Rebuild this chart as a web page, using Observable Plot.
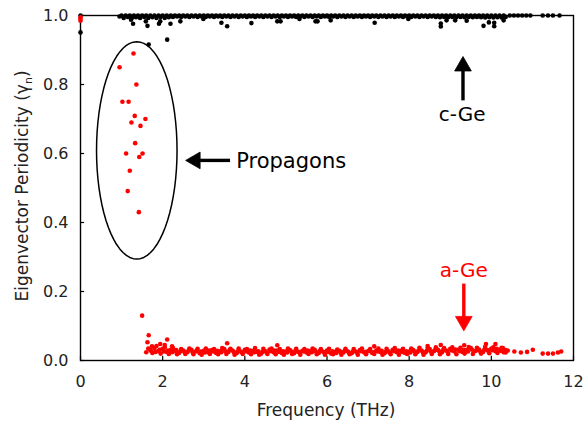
<!DOCTYPE html>
<html>
<head>
<meta charset="utf-8">
<script src="https://cdn.jsdelivr.net/npm/d3@7"></script>
<script src="https://cdn.jsdelivr.net/npm/@observablehq/plot@0.6"></script>
<style>
  html, body { margin: 0; padding: 0; background: #fff; }
  #chart { width: 584px; height: 425px; }
</style>
</head>
<body>
<div id="chart"></div>
<script>
// ---------- tick values ----------
const xTicks = [0, 2, 4, 6, 8, 10, 12];
const yTicks = [0, 0.2, 0.4, 0.6, 0.8, 1.0];

// ---------- c-Ge (black) points: [frequency THz, periodicity] ----------
const cGe = [
  [0, 1.000], [0, 0.951], [1.66, 0.916], [2.11, 0.930],
  [0.95, 0.997], [1.00, 1.000], [1.05, 0.993], [1.10, 1.000], [1.15, 0.996], [1.20, 1.000], [1.25, 0.993], [1.30, 1.000], [1.35, 0.995], [1.40, 1.000],
  [1.45, 0.993], [1.50, 1.000], [1.55, 0.996], [1.60, 1.000], [1.65, 0.993], [1.70, 1.000], [1.75, 0.995], [1.80, 1.000], [1.85, 0.993], [1.90, 1.000],
  [1.95, 0.996], [2.00, 1.000], [2.05, 0.993], [2.10, 1.000], [2.15, 0.995], [2.20, 1.000], [2.25, 0.996], [2.30, 1.000], [2.35, 0.997], [2.40, 1.000],
  [2.45, 0.996], [2.50, 1.000], [2.55, 0.997], [2.60, 1.000], [2.65, 0.996], [2.70, 1.000], [2.75, 0.997], [2.80, 1.000], [2.85, 0.996], [2.90, 1.000],
  [2.95, 0.997], [3.00, 1.000], [3.05, 0.996], [3.10, 1.000], [3.15, 0.997], [3.20, 1.000], [3.25, 0.996], [3.30, 1.000], [3.35, 0.997], [3.40, 1.000],
  [3.45, 0.996], [3.50, 1.000], [3.55, 0.997], [3.60, 1.000], [3.65, 0.996], [3.70, 1.000], [3.75, 0.997], [3.80, 1.000], [3.85, 0.996], [3.90, 1.000],
  [3.95, 0.997], [4.00, 1.000], [4.05, 0.996], [4.10, 1.000], [4.15, 0.997], [4.20, 1.000], [4.25, 0.996], [4.30, 1.000], [4.35, 0.997], [4.40, 1.000],
  [4.45, 0.996], [4.50, 1.000], [4.55, 0.997], [4.60, 1.000], [4.65, 0.996], [4.70, 1.000], [4.75, 0.997], [4.80, 1.000], [4.85, 0.996], [4.90, 1.000],
  [4.95, 0.997], [5.00, 1.000], [5.05, 0.996], [5.10, 1.000], [5.15, 0.997], [5.20, 1.000], [5.25, 0.996], [5.30, 1.000], [5.35, 0.997], [5.40, 1.000],
  [5.45, 0.996], [5.50, 1.000], [5.55, 0.997], [5.60, 1.000], [5.65, 0.996], [5.70, 1.000], [5.75, 0.997], [5.80, 1.000], [5.85, 0.996], [5.90, 1.000],
  [5.95, 0.997], [6.00, 1.000], [6.05, 0.996], [6.10, 1.000], [6.15, 0.997], [6.20, 1.000], [6.25, 0.996], [6.30, 1.000], [6.35, 0.997], [6.40, 1.000],
  [6.45, 0.996], [6.50, 1.000], [6.55, 0.997], [6.60, 1.000], [6.65, 0.996], [6.70, 1.000], [6.75, 0.997], [6.80, 1.000], [6.85, 0.996], [6.90, 1.000],
  [6.95, 0.997], [7.00, 1.000], [7.05, 0.996], [7.10, 1.000], [7.15, 0.997], [7.20, 1.000], [7.25, 0.996], [7.30, 1.000], [7.35, 0.997], [7.40, 1.000],
  [7.45, 0.996], [7.50, 1.000], [7.55, 0.997], [7.60, 1.000], [7.65, 0.996], [7.70, 1.000], [7.75, 0.997], [7.80, 1.000], [7.85, 0.996], [7.90, 1.000],
  [7.95, 0.997], [8.00, 1.000], [8.05, 0.996], [8.10, 1.000], [8.15, 0.997], [8.20, 1.000], [8.25, 0.996], [8.30, 1.000], [8.35, 0.997], [8.40, 1.000],
  [8.45, 0.996], [8.50, 1.000], [8.55, 0.997], [8.60, 1.000], [8.65, 0.996], [8.70, 1.000], [8.75, 0.995], [8.80, 1.000], [8.85, 0.996], [8.90, 1.000],
  [8.95, 0.995], [9.00, 1.000], [9.05, 0.996], [9.10, 1.000], [9.15, 0.995], [9.20, 1.000], [9.25, 0.996], [9.30, 1.000], [9.35, 0.995], [9.40, 1.000],
  [9.45, 0.996], [9.50, 1.000], [9.55, 0.995], [9.60, 1.000], [9.65, 0.996], [9.70, 1.000], [9.75, 0.995], [9.80, 1.000], [9.85, 0.994], [9.90, 1.000],
  [9.95, 0.995], [10.00, 1.000], [10.05, 0.994], [10.10, 1.000], [10.15, 0.995], [10.20, 1.000], [10.25, 0.994], [10.30, 1.000], [10.35, 0.996],
  [1.23, 0.988], [1.28, 0.976], [1.59, 0.983], [1.63, 0.970], [1.91, 0.976], [1.94, 0.983], [2.19, 0.976], [2.43, 0.983],
  [2.99, 0.990], [3.43, 0.979], [3.57, 0.969], [4.16, 0.978], [4.79, 0.983], [4.87, 0.983], [5.33, 0.990], [5.72, 0.983],
  [5.77, 0.983], [6.09, 0.986], [7.16, 0.979], [7.98, 0.990], [8.77, 0.977], [8.77, 0.968], [8.91, 0.986], [9.12, 0.986],
  [9.40, 0.985], [9.81, 0.970], [9.94, 0.980], [10.07, 0.979], [10.07, 0.969], [10.30, 0.986],
  [10.45, 1.000], [10.55, 1.000], [10.65, 1.000], [10.75, 1.000], [10.85, 1.000], [10.95, 1.000],
  [11.25, 1.000], [11.38, 1.000], [11.50, 1.000], [11.66, 1.000]
];

// ---------- a-Ge (red) points: [frequency THz, periodicity] ----------
const aGePropagons = [
  [1.29, 0.890], [0.95, 0.850], [1.36, 0.800], [1.02, 0.750], [1.17, 0.750], [1.32, 0.709],
  [1.24, 0.690], [1.58, 0.700], [1.46, 0.680], [1.33, 0.630], [1.11, 0.600], [1.51, 0.600],
  [1.43, 0.590], [1.20, 0.550], [1.15, 0.491], [1.42, 0.430]
];
const aGeDiffusons = [
  [0, 0.985], [0, 0.995], [0, 0.990],
  [1.50, 0.130], [1.66, 0.073], [1.63, 0.053], [1.60, 0.024], [1.65, 0.035], [2.11, 0.061], [1.94, 0.048],
  [1.74, 0.041], [2.23, 0.041], [2.05, 0.045], [3.57, 0.050], [4.79, 0.044], [7.15, 0.041], [8.45, 0.042],
  [8.77, 0.045], [9.34, 0.044], [9.87, 0.048], [10.10, 0.048], [10.28, 0.036], [10.40, 0.029], [10.56, 0.026],
  [10.72, 0.023], [10.87, 0.025], [11.01, 0.031], [11.25, 0.020], [11.38, 0.020], [11.50, 0.020], [11.62, 0.023], [11.70, 0.026],
  [1.70, .030], [1.80, .036], [1.90, .028], [2.00, .034], [2.10, .025], [2.20, .031], [2.30, .027], [2.40, .022], [2.50, .029], [2.60, .024],
  [2.70, .031], [2.80, .026], [2.90, .021], [3.00, .028], [3.10, .024], [3.20, .030], [3.30, .022], [3.40, .027], [3.50, .033], [3.60, .025],
  [3.70, .029], [3.80, .021], [3.90, .026], [4.00, .031], [4.10, .023], [4.20, .028], [4.30, .025], [4.40, .020], [4.50, .027], [4.60, .032],
  [4.70, .024], [4.80, .029], [4.90, .022], [5.00, .026], [5.10, .030], [5.20, .021], [5.30, .025], [5.40, .028], [5.50, .023], [5.60, .027],
  [5.70, .031], [5.80, .022], [5.90, .026], [6.00, .029], [6.10, .020], [6.20, .025], [6.30, .028], [6.40, .023], [6.50, .027], [6.60, .021],
  [6.70, .026], [6.80, .030], [6.90, .024], [7.00, .027], [7.10, .022], [7.20, .029], [7.30, .025], [7.40, .021], [7.50, .027], [7.60, .031],
  [7.70, .024], [7.80, .028], [7.90, .022], [8.00, .026], [8.10, .030], [8.20, .025], [8.30, .029], [8.40, .023], [8.50, .033], [8.60, .027],
  [8.70, .031], [8.80, .024], [8.90, .029], [9.00, .034], [9.10, .026], [9.20, .031], [9.30, .025], [9.40, .030], [9.50, .036], [9.60, .027],
  [9.70, .032], [9.80, .025], [9.90, .030], [10.00, .035], [10.10, .027], [10.20, .031], [10.30, .024],
  [1.75, .022], [1.85, .042], [1.95, .020], [2.05, .038], [2.15, .019], [2.25, .036], [2.35, .018], [2.45, .033], [2.55, .019], [2.65, .035],
  [2.75, .018], [2.85, .034], [2.95, .017], [3.05, .035], [3.15, .019], [3.25, .033], [3.35, .018], [3.45, .036], [3.55, .019], [3.65, .034],
  [3.75, .017], [3.85, .035], [3.95, .019], [4.05, .033], [4.15, .018], [4.25, .036], [4.35, .017], [4.45, .034], [4.55, .019], [4.65, .035],
  [4.75, .018], [4.85, .033], [4.95, .017], [5.05, .035], [5.15, .019], [5.25, .034], [5.35, .017], [5.45, .033], [5.55, .019], [5.65, .035],
  [5.75, .018], [5.85, .033], [5.95, .017], [6.05, .034], [6.15, .018], [6.25, .032], [6.35, .017], [6.45, .034], [6.55, .018], [6.65, .033],
  [6.75, .017], [6.85, .035], [6.95, .018], [7.05, .033], [7.15, .019], [7.25, .035], [7.35, .017], [7.45, .034], [7.55, .018], [7.65, .036],
  [7.75, .017], [7.85, .034], [7.95, .019], [8.05, .035], [8.15, .018], [8.25, .037], [8.35, .017], [8.45, .036], [8.55, .019], [8.65, .038],
  [8.75, .018], [8.85, .036], [8.95, .019], [9.05, .038], [9.15, .018], [9.25, .037], [9.35, .020], [9.45, .039], [9.55, .019], [9.65, .037],
  [9.75, .020], [9.85, .040], [9.95, .021], [10.05, .038], [10.15, .022], [10.25, .037], [10.35, .023],
  [1.73, .027], [1.83, .025], [1.93, .031], [2.03, .026], [2.13, .029], [2.23, .024], [2.33, .030], [2.43, .027], [2.53, .025], [2.63, .029],
  [2.73, .024], [2.83, .028], [2.93, .026], [3.03, .023], [3.13, .029], [3.23, .026], [3.33, .028], [3.43, .024], [3.53, .027], [3.63, .030],
  [3.73, .025], [3.83, .027], [3.93, .023], [4.03, .026], [4.13, .029], [4.23, .024], [4.33, .027], [4.43, .025], [4.53, .023], [4.63, .027],
  [4.73, .029], [4.83, .025], [4.93, .027], [5.03, .023], [5.13, .026], [5.23, .028], [5.33, .024], [5.43, .026], [5.53, .029], [5.63, .024],
  [5.73, .026], [5.83, .028], [5.93, .023], [6.03, .025], [6.13, .027], [6.23, .022], [6.33, .025], [6.43, .028], [6.53, .024], [6.63, .026],
  [6.73, .023], [6.83, .027], [6.93, .025], [7.03, .029], [7.13, .024], [7.23, .026], [7.33, .028], [7.43, .025], [7.53, .023], [7.63, .027],
  [7.73, .029], [7.83, .025], [7.93, .027], [8.03, .023], [8.13, .026], [8.23, .029], [8.33, .025], [8.43, .028], [8.53, .026], [8.63, .030],
  [8.73, .027], [8.83, .031], [8.93, .026], [9.03, .029], [9.13, .032], [9.23, .027], [9.33, .030], [9.43, .026], [9.53, .031], [9.63, .029],
  [9.73, .026], [9.83, .032], [9.93, .028], [10.03, .030], [10.13, .034], [10.23, .028], [10.33, .031]
];

// ---------- annotations (data coordinates) ----------
const ellipseSpec = {cx: 1.37, cy: 0.609, rx: 0.98, ry: 0.315};
// tail -> neck (head base) -> tip
const arrowPropagons = [{x1: 3.64, y1: 0.580, xn: 2.90, yn: 0.580, xt: 2.56, yt: 0.580}];
const arrowCGe = [{x1: 9.31, y1: 0.754, xn: 9.31, yn: 0.840, xt: 9.31, yt: 0.881}];
const arrowAGe = [{x1: 9.33, y1: 0.223, xn: 9.33, yn: 0.126, xt: 9.33, yt: 0.086}];
const labelPropagons = [{x: 3.79, y: 0.577, text: "Propagons"}];
const labelCGe = [{x: 9.29, y: 0.712, text: "c-Ge"}];
const labelAGe = [{x: 9.33, y: 0.262, text: "a-Ge"}];

const ellipsePts = d3.range(0, 73).map(i => {
  const t = (i / 72) * 2 * Math.PI;
  return {x: ellipseSpec.cx + ellipseSpec.rx * Math.cos(t), y: ellipseSpec.cy + ellipseSpec.ry * Math.sin(t)};
});

const FONT = "DejaVu Sans, sans-serif";
const HEAD_R = 6.2;   // triangle head size
const HEAD_OFF = 9.6; // centroid-to-tip distance in px

function arrowMarks(spec, color, rotate, dx, dy) {
  return [
    Plot.link(spec, {x1: "x1", y1: "y1", x2: "xn", y2: "yn", stroke: color, strokeWidth: 3.4, strokeLinecap: "butt"}),
    Plot.dot(spec, {x: "xt", y: "yt", symbol: "triangle", r: HEAD_R, fill: color, stroke: color, strokeWidth: 0.8, rotate, dx, dy})
  ];
}

const chart = Plot.plot({
  width: 584,
  height: 425,
  marginLeft: 80,
  marginRight: 11,
  marginTop: 15,
  marginBottom: 65,
  style: {fontFamily: FONT, fontSize: "16px", color: "#222", background: "white", overflow: "visible"},
  x: {domain: [0, 12]},
  y: {domain: [0, 1]},
  marks: [
    Plot.axisX(xTicks, {tickSize: 0, tickPadding: 15, label: null, tickFormat: d => String(d), fontSize: 16}),
    Plot.axisY(yTicks, {tickSize: 0, tickPadding: 12, label: null, tickFormat: d3.format(".1f"), fontSize: 16}),
    Plot.ruleX(xTicks, {x: d => d, y1: 0, y2: 0.012, stroke: "black", strokeWidth: 1.2}),
    Plot.ruleY(yTicks, {y: d => d, x1: 0, x2: 0.1, stroke: "black", strokeWidth: 1.2}),
    Plot.frame({stroke: "black", strokeWidth: 1.4}),
    Plot.line(ellipsePts, {x: "x", y: "y", stroke: "black", strokeWidth: 1.5, curve: "linear-closed"}),
    Plot.dot(cGe, {x: d => d[0], y: d => d[1], r: 2.3, fill: "black", stroke: "none"}),
    Plot.dot(aGePropagons, {x: d => d[0], y: d => d[1], r: 2.3, fill: "#ff0000", stroke: "none"}),
    Plot.dot(aGeDiffusons, {x: d => d[0], y: d => d[1], r: 2.3, fill: "#ff0000", stroke: "none"}),
    ...arrowMarks(arrowPropagons, "black", -90, HEAD_OFF, 0),
    ...arrowMarks(arrowCGe, "black", 0, 0, HEAD_OFF),
    ...arrowMarks(arrowAGe, "#ff0000", 180, 0, -HEAD_OFF),
    Plot.text(labelPropagons, {x: "x", y: "y", text: "text", fill: "black", textAnchor: "start", fontSize: 21, fontFamily: FONT}),
    Plot.text(labelCGe, {x: "x", y: "y", text: "text", fill: "black", textAnchor: "middle", fontSize: 20, fontFamily: FONT}),
    Plot.text(labelAGe, {x: "x", y: "y", text: "text", fill: "#ff0000", textAnchor: "middle", fontSize: 20, fontFamily: FONT})
  ]
});

document.getElementById("chart").appendChild(chart);

// axis titles (with subscript)
const svg = d3.select(chart);
svg.append("text")
  .attr("x", 326).attr("y", 416)
  .attr("text-anchor", "middle")
  .attr("font-family", FONT).attr("font-size", 17).attr("fill", "#222")
  .text("Frequency (THz)");

const yl = svg.append("text")
  .attr("transform", "translate(28,186) rotate(-90)")
  .attr("text-anchor", "middle")
  .attr("font-family", FONT).attr("font-size", 17).attr("fill", "#222");
yl.append("tspan").text("Eigenvector Periodicity (\u03B3");
yl.append("tspan").attr("font-size", 11).attr("dy", 4).text("n");
yl.append("tspan").attr("dy", -4).text(")");
</script>
</body>
</html>
